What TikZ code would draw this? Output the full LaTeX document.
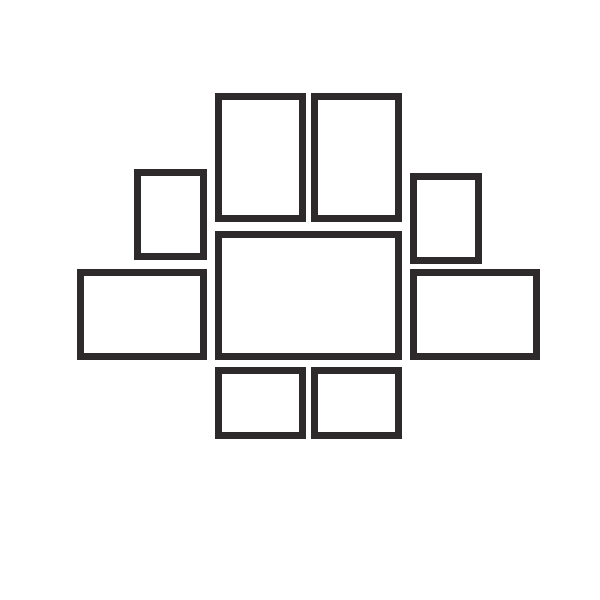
\documentclass[tikz,border=0pt]{standalone}
\definecolor{framecol}{HTML}{2E292A}
\begin{document}
\begin{tikzpicture} [x=0.025cm, y=-0.025cm, frame/.style={draw=framecol, line width=0.175cm, line join=miter}]
    \useasboundingbox (0,0) rectangle (600,600);
    % top row
    \draw[frame] (218,96.5) rectangle (302,218.5);
    \draw[frame] (314,96.5) rectangle (398,218.5);
    % small side frames
    \draw[frame] (137.5,172) rectangle (203,256);
    \draw[frame] (413,176.5) rectangle (478.5,260.5);
    % middle row
    \draw[frame] (80.5,272.5) rectangle (203,356.5);
    \draw[frame] (218,234.5) rectangle (398,356.5);
    \draw[frame] (413,272.5) rectangle (536,356.5);
    % bottom row
    \draw[frame] (218,370.5) rectangle (302.5,435.5);
    \draw[frame] (314,370.5) rectangle (398,435.5);
  \end{tikzpicture}
\end{document}
